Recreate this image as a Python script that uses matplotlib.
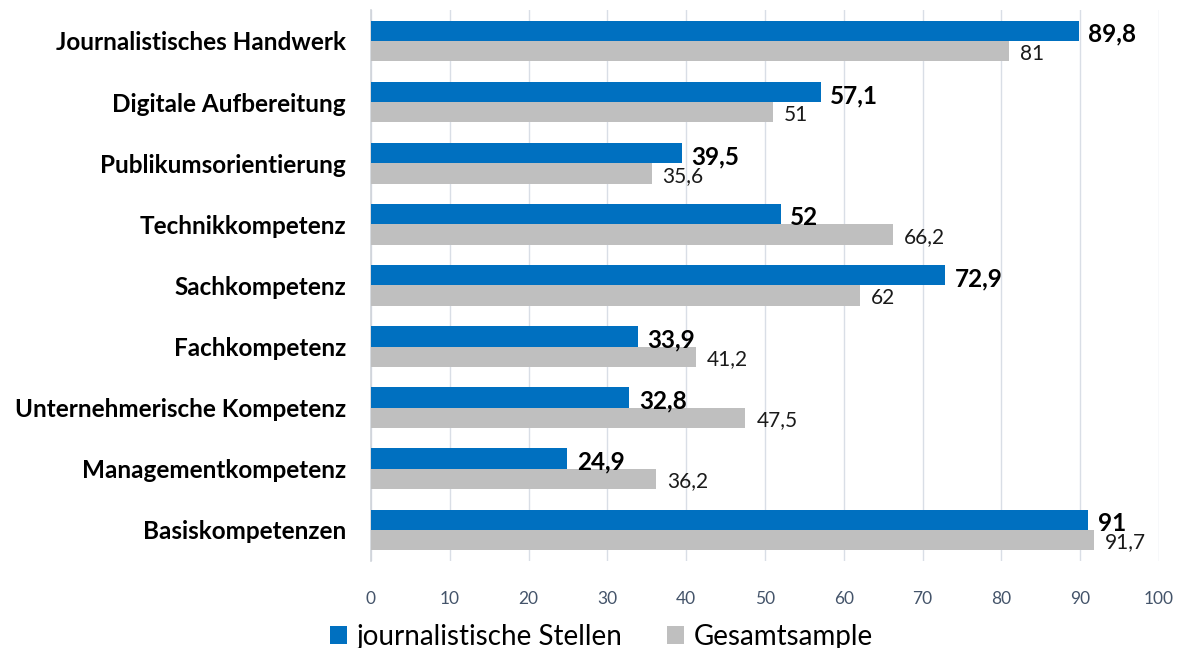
import numpy as np
import matplotlib
matplotlib.use("Agg")
from matplotlib import pyplot as plt

categories = ["Journalistisches Handwerk", "Digitale Aufbereitung", "Publikumsorientierung",
              "Technikkompetenz", "Sachkompetenz", "Fachkompetenz",
              "Unternehmerische Kompetenz", "Managementkompetenz", "Basiskompetenzen"]
stellen = [89.8, 57.1, 39.5, 52, 72.9, 33.9, 32.8, 24.9, 91]
gesamt = [81, 51, 35.6, 66.2, 62, 41.2, 47.5, 36.2, 91.7]
xticks = [0, 10, 20, 30, 40, 50, 60, 70, 80, 90, 100]

plt.rcParams['font.family'] = ['Lato', 'DejaVu Sans']

def fmt(v):
    return ("%g" % v).replace(".", ",")

blue = "#0070C0"
grey = "#BFBFBF"

fig = plt.figure(figsize=(11.77, 6.48), dpi=100)
ax = fig.add_axes([0.3152, 0.135, 0.6695, 0.849])

y = np.arange(len(categories))
h = 1 / 3
ax.barh(y - h / 2, stellen, height=h, color=blue, label="journalistische Stellen", zorder=3)
ax.barh(y + h / 2, gesamt, height=h, color=grey, label="Gesamtsample", zorder=3)

# value labels next to the bars
for i in range(len(categories)):
    ax.text(stellen[i] + 1.2, y[i] - h / 2 + 0.06, fmt(stellen[i]), va="center", ha="left",
            fontsize=17.5, fontweight="bold", color="black")
    ax.text(gesamt[i] + 1.4, y[i] + h / 2 + 0.04, fmt(gesamt[i]), va="center", ha="left",
            fontsize=15, color="#1a1a1a")

ax.set_ylim(len(categories) - 0.5, -0.5)
ax.set_xlim(0, 100)
ax.set_yticks(y)
ax.set_yticklabels(categories, fontsize=17.5, fontweight="bold")
ax.set_xticks(xticks)
ax.set_xticklabels([str(t) for t in xticks], fontsize=12.5, color="#44546A")
ax.tick_params(axis="y", length=0, pad=18)
ax.tick_params(axis="x", length=0, pad=22)
ax.grid(axis="x", color="#D9DEE6", linewidth=1, zorder=0)
for s in ["top", "right", "bottom"]:
    ax.spines[s].set_visible(False)
ax.spines["left"].set_color("#D0D4DA")
ax.spines["left"].set_linewidth(1.2)

ax.legend(loc="center", bbox_to_anchor=(0.511, 0.017), bbox_transform=fig.transFigure, ncol=2,
          frameon=False, fontsize=20, handlelength=0.6, handleheight=0.6, handletextpad=0.35,
          columnspacing=1.6, borderpad=0)

fig.savefig("out.png", dpi=100)
